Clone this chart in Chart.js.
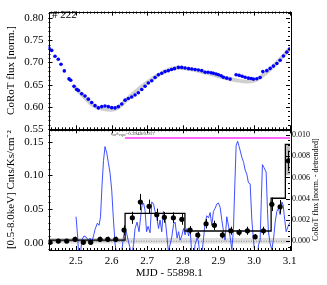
<!DOCTYPE html>
<html>
<head>
<meta charset="utf-8">
<script src="https://cdn.jsdelivr.net/npm/chart.js@4.4.0/dist/chart.umd.min.js"></script>
<style>
html, body { margin: 0; padding: 0; background: #fff; }
#wrap { position: relative; width: 327px; height: 285px; }
#wrap canvas { position: absolute; left: 0; top: 0; }
</style>
</head>
<body>
<div id="wrap">
  <canvas id="topChart" width="327" height="285" style="width:327px;height:285px"></canvas>
  <canvas id="botChart" width="327" height="285" style="width:327px;height:285px"></canvas>
</div>
<script>
// x range (MJD - 55898.1)
const xMin = 2.423, xMax = 3.101;

// top panel: CoRoT flux points
const fluxT = [2.4244, 2.4320, 2.4413, 2.4505, 2.4581, 2.4674, 2.4806, 2.4854,
  2.4946, 2.5022, 2.5067, 2.5163, 2.5255, 2.5348, 2.5443, 2.5536, 2.5629, 2.5724,
  2.5817, 2.5910, 2.6005, 2.6098, 2.6191, 2.6286, 2.6379, 2.6472, 2.6567, 2.6660,
  2.6752, 2.6848, 2.6941, 2.7033, 2.7129, 2.7222, 2.7314, 2.7410, 2.7503, 2.7595,
  2.7685, 2.7769, 2.7876, 2.7971, 2.8064, 2.8163, 2.8253, 2.8345, 2.8438, 2.8533,
  2.8626, 2.8710, 2.8795, 2.8860, 2.8935, 2.9000, 2.9076, 2.9140, 2.9236, 2.9329,
  2.9497, 2.9581, 2.9666, 2.9750, 2.9843, 2.9919, 2.9983, 3.0078, 3.0171, 3.0247,
  3.0360, 3.0452, 3.0545, 3.0641, 3.0733, 3.0826, 3.0921, 3.0994];
const fluxV = [0.732, 0.727, 0.714, 0.707, 0.696, 0.681, 0.663, 0.660,
  0.6467, 0.6394, 0.6373, 0.6298, 0.6248, 0.6176, 0.6102, 0.6030, 0.5980, 0.6008,
  0.6023, 0.6008, 0.5986, 0.5980, 0.6008, 0.6067, 0.6154, 0.6190, 0.6226, 0.6270,
  0.6320, 0.6394, 0.6467, 0.6538, 0.6590, 0.6663, 0.6722, 0.6757, 0.6794, 0.6816,
  0.6840, 0.6860, 0.6888, 0.6888, 0.6875, 0.6860, 0.6853, 0.6840, 0.6831, 0.6816,
  0.6778, 0.6780, 0.6770, 0.6757, 0.6740, 0.6722, 0.6700, 0.6669, 0.6647, 0.6626,
  0.6722, 0.6710, 0.6690, 0.6669, 0.6647, 0.6640, 0.6626, 0.6634, 0.6663, 0.6794,
  0.6816, 0.6866, 0.6918, 0.6975, 0.7049, 0.7143, 0.7230, 0.7302];

// top panel: smooth model (gray)
const modelT = [2.495, 2.52, 2.55, 2.575, 2.60, 2.62, 2.65, 2.70, 2.75, 2.78, 2.82, 2.87, 2.92, 2.95, 2.98, 3.00, 3.02, 3.05, 3.10];
const modelV = [0.646, 0.625, 0.603, 0.596, 0.594, 0.600, 0.622, 0.655, 0.680, 0.688, 0.685, 0.676, 0.665, 0.660, 0.657, 0.659, 0.668, 0.688, 0.730];

// bottom panel: X-ray rate [0.5-8.0 keV] with errors
const xrayT = [2.4272, 2.4505, 2.4741, 2.4974, 2.5208, 2.5415, 2.5677, 2.5893, 2.6118, 2.6351,
  2.6584, 2.6809, 2.7053, 2.7269, 2.7483, 2.7736, 2.7972, 2.8205, 2.8421, 2.8654,
  2.8888, 2.9112, 2.9348, 2.9581, 2.9815, 3.0031, 3.0264, 3.0500, 3.0733, 3.0966];
const xrayV = [0.0006, 0.0025, 0.0025, 0.005, 0.0006, 0.0006, 0.005, 0.005, 0.005, 0.0188,
  0.0371, 0.0604, 0.054, 0.0416, 0.0377, 0.0371, 0.0347, 0.0188, 0.0114, 0.0282,
  0.0258, 0.0114, 0.0178, 0.0154, 0.0178, 0.0089, 0.0178, 0.057, 0.0534, 0.1217];
const xrayErr = [0.003, 0.003, 0.003, 0.004, 0.003, 0.003, 0.004, 0.004, 0.004, 0.007,
  0.009, 0.012, 0.010, 0.009, 0.008, 0.008, 0.008, 0.006, 0.005, 0.007,
  0.007, 0.005, 0.006, 0.005, 0.006, 0.004, 0.006, 0.010, 0.010, 0.015];

// bayesian blocks
const blockEdges = [2.423, 2.638, 2.806, 3.048, 3.088, 3.101];
const blockRate = [0.004, 0.0437, 0.0174, 0.066, 0.146];
const block1Band = [0.001, 0.006];
const block5Band = [0.100, 0.146];

// bottom panel: detrended CoRoT flux (right axis)
const detT = [2.5003, 2.5045, 2.5078, 2.5129, 2.5163, 2.5227, 2.5283, 2.5348, 2.5396, 2.5443,
  2.5494, 2.5536, 2.5601, 2.5649, 2.5691, 2.5733, 2.5775, 2.5817, 2.5865, 2.5910,
  2.5958, 2.6005, 2.6050, 2.6098, 2.6146, 2.6210, 2.6286, 2.6331, 2.6379, 2.6427,
  2.6472, 2.6518, 2.6567, 2.6618, 2.6660, 2.6716, 2.6772, 2.6814, 2.6856, 2.6898,
  2.6941, 2.6983, 2.7025, 2.7081, 2.7129, 2.7180, 2.7222, 2.7270, 2.7320, 2.7362,
  2.7410, 2.7455, 2.7503, 2.7551, 2.7596, 2.7643, 2.7691, 2.7742, 2.7784, 2.7840,
  2.7882, 2.7924, 2.7972, 2.8022, 2.8064, 2.8120, 2.8163, 2.8205, 2.8253, 2.8303,
  2.8345, 2.8401, 2.8438, 2.8486, 2.8533, 2.8584, 2.8626, 2.8674, 2.8724, 2.8767,
  2.8815, 2.8860, 2.8908, 2.8955, 2.9000, 2.9048, 2.9096, 2.9146, 2.9188, 2.9236,
  2.9287, 2.9329, 2.9377, 2.9422, 2.9461, 2.9498, 2.9540, 2.9582, 2.9658, 2.9709,
  2.9750, 2.9798, 2.9843, 2.9891, 2.9939, 2.9984, 3.0031, 3.0087, 3.0129, 3.0171,
  3.0205, 3.0236, 3.0283, 3.0340, 3.0376, 3.0404, 3.0452, 3.0500, 3.0551, 3.0593,
  3.0641, 3.0686, 3.0733, 3.0781, 3.0818, 3.0846, 3.0902, 3.0967, 3.1014];
const detV = [0.00231, 0.00059, -0.00129, -0.00129, 0.00012, 0.0005, 0.0004, 0.0001, 0.0003, -0.0001,
  0.0005, 0.0011, 0.0017, 0.0015, 0.0023, 0.0053, 0.0076, 0.0089, 0.0083, 0.0074,
  0.0064, 0.0048, 0.0022, -0.0002, -0.0013, -0.0016, -0.0010, 0.0003, 0.0012, 0.0007,
  0.0000, -0.0006, -0.0014, -0.0003, 0.0012, 0.0018, 0.0009, 0.0022, 0.0034, 0.0036,
  0.0029, 0.0009, 0.0014, 0.0008, 0.0037, 0.0035, 0.0028, 0.0022, 0.0012, 0.0020,
  0.0009, 0.0028, 0.0022, 0.0006, -0.0010, -0.0003, 0.0004, 0.0016, 0.0018, 0.0003,
  0.0009, 0.0001, 0.0005, 0.0012, 0.0006, 0.0012, 0.0005, 0.0012, -0.0013, -0.0016,
  -0.0003, 0.0003, 0.0000, -0.0014, -0.0013, 0.0003, 0.0017, 0.0024, 0.0022, 0.0027,
  0.0015, 0.0028, 0.0031, 0.0035, 0.0036, 0.0032, 0.0020, 0.0009, 0.0001, 0.0023,
  0.0014, 0.0004, -0.0008, 0.0011, 0.0053, 0.0090, 0.0094, 0.0089, 0.0079, 0.0074,
  0.0067, 0.0063, 0.0055, 0.0054, 0.0020, 0.0001, -0.0014, -0.0016, -0.0003, 0.0001,
  0.0039, 0.0072, 0.0069, 0.0065, 0.0031, 0.0009, -0.0002, -0.0008, 0.0003, 0.0018,
  0.0028, 0.0031, 0.0025, 0.0037, 0.0034, 0.0025, 0.0009, 0.0015, 0.0018];

const threshLevel = 0.0097;   // magenta line
const threshStart = 2.638;
const zeroBand = [-0.0002, 0.0003];

const serif = 'Liberation Serif';

function pts(xs, ys) { return xs.map((x, i) => ({ x: x, y: ys[i] })); }

// frame with inward ticks (astro style)
function tickRow(ctx, scale, step, len, edge, horiz, dir) {
  const lo = Math.ceil(scale.min / step - 1e-6), hi = Math.floor(scale.max / step + 1e-6);
  for (let k = lo; k <= hi; k++) {
    const p = Math.round(scale.getPixelForValue(k * step)) + 0.5;
    ctx.beginPath();
    if (horiz) { ctx.moveTo(p, edge); ctx.lineTo(p, edge + dir * len); }
    else { ctx.moveTo(edge, p); ctx.lineTo(edge + dir * len, p); }
    ctx.stroke();
  }
}

const framePlugin = {
  id: 'frame',
  afterDraw(chart, args, opts) {
    const ctx = chart.ctx, a = chart.chartArea;
    ctx.save();
    ctx.strokeStyle = '#000';
    ctx.lineWidth = 1;
    ctx.strokeRect(Math.round(a.left) + 0.5, Math.round(a.top) + 0.5, Math.round(a.right - a.left), Math.round(a.bottom - a.top));
    const x = chart.scales.x;
    tickRow(ctx, x, 0.1, 4, a.bottom, true, -1);
    tickRow(ctx, x, 0.01, 2, a.bottom, true, -1);
    tickRow(ctx, x, 0.1, 4, a.top, true, 1);
    tickRow(ctx, x, 0.01, 2, a.top, true, 1);
    const yl = chart.scales[opts.left];
    tickRow(ctx, yl, opts.lMaj, 4, a.left, false, 1);
    tickRow(ctx, yl, opts.lMin, 2, a.left, false, 1);
    const yr = chart.scales[opts.right];
    tickRow(ctx, yr, opts.rMaj, 4, a.right, false, -1);
    tickRow(ctx, yr, opts.rMin, 2, a.right, false, -1);
    ctx.restore();
  }
};

// ---------- top panel ----------
new Chart(document.getElementById('topChart'), {
  type: 'scatter',
  data: {
    datasets: [
      {
        data: pts(fluxT, fluxV),
        showLine: false,
        pointRadius: 1.8,
        pointBorderWidth: 0,
        pointBackgroundColor: '#0000ff',
        order: 0
      },
      {
        data: pts(modelT, modelV),
        showLine: true,
        tension: 0.4,
        borderColor: '#cfcfcf',
        borderWidth: 4,
        pointRadius: 0,
        order: 1
      }
    ]
  },
  options: {
    responsive: false,
    animation: false,
    events: [],
    layout: { padding: { left: 0, right: 37, top: 8.3, bottom: 155.7 } },
    plugins: {
      legend: { display: false },
      tooltip: { enabled: false },
      frame: { left: 'y', right: 'y', lMaj: 0.05, lMin: 0.01, rMaj: 0.05, rMin: 0.01 }
    },
    scales: {
      x: { type: 'linear', min: xMin, max: xMax, display: false },
      y: {
        min: 0.55, max: 0.814,
        afterFit(s) { s.width = 48.5; },
        grid: { display: false, drawTicks: false },
        border: { display: false },
        ticks: {
          stepSize: 0.05, includeBounds: false, padding: 5, color: '#000',
          font: { family: serif, size: 11 },
          callback: v => v.toFixed(2)
        },
        title: {
          display: true, text: 'CoRoT flux [norm.]', color: '#000',
          font: { family: serif, size: 11 }, padding: { top: 5, bottom: 0 }
        }
      }
    }
  },
  plugins: [framePlugin, {
    id: 'label222',
    afterDraw(chart) {
      const ctx = chart.ctx;
      ctx.save();
      ctx.fillStyle = '#000';
      ctx.font = '11px "' + serif + '"';
      ctx.textBaseline = 'middle';
      ctx.fillText('# 222', chart.chartArea.left + 3.5, 15);
      ctx.restore();
    }
  }]
});

// ---------- bottom panel ----------
const errPlugin = {
  id: 'errbars',
  afterDatasetsDraw(chart) {
    const ctx = chart.ctx, x = chart.scales.x, y = chart.scales.yL;
    ctx.save();
    ctx.strokeStyle = '#000';
    ctx.lineWidth = 1;
    xrayT.forEach((t, i) => {
      const px = Math.round(x.getPixelForValue(t)) + 0.5;
      ctx.beginPath();
      ctx.moveTo(px, y.getPixelForValue(xrayV[i] - xrayErr[i]));
      ctx.lineTo(px, y.getPixelForValue(xrayV[i] + xrayErr[i]));
      ctx.stroke();
    });
    ctx.restore();
  }
};

const textPlugin = {
  id: 'texts',
  afterDraw(chart) {
    const ctx = chart.ctx;
    ctx.save();
    ctx.fillStyle = '#000';
    // right axis title, reading bottom to top
    ctx.translate(316, (chart.chartArea.top + chart.chartArea.bottom) / 2);
    ctx.rotate(-Math.PI / 2);
    ctx.textAlign = 'center';
    ctx.textBaseline = 'middle';
    ctx.font = '8px "' + serif + '"';
    ctx.fillText('CoRoT flux [norm. - detrended]', 0, 0);
    ctx.restore();
    // small annotation at top of panel
    ctx.save();
    ctx.fillStyle = '#333';
    ctx.textBaseline = 'middle';
    let cx = 111;
    const parts = [['t', 5, 0], ['on', 3.5, 1.5], ['/t', 5, 0], ['expo', 3.5, 1.5], ['=0.3948/0.917', 5, 0]];
    parts.forEach(p => {
      ctx.font = p[1] + 'px "' + serif + '"';
      ctx.fillText(p[0], cx, 134 + p[2]);
      cx += ctx.measureText(p[0]).width;
    });
    ctx.restore();
  }
};

new Chart(document.getElementById('botChart'), {
  type: 'scatter',
  data: {
    datasets: [
      {
        label: 'xray',
        data: pts(xrayT, xrayV),
        yAxisID: 'yL',
        showLine: false,
        pointRadius: 2.6,
        pointBorderWidth: 0,
        pointBackgroundColor: '#000',
        order: 0
      },
      {
        label: 'blocks',
        data: pts(blockEdges, blockRate.concat([blockRate[blockRate.length - 1]])),
        yAxisID: 'yL',
        showLine: true,
        stepped: 'before',
        borderColor: '#000',
        borderWidth: 1.3,
        pointRadius: 0,
        order: 1
      },
      {
        label: 'thresh',
        data: [{ x: threshStart, y: threshLevel }, { x: xMax, y: threshLevel }],
        yAxisID: 'yR',
        showLine: true,
        borderColor: '#ff66ff',
        borderWidth: 2,
        pointRadius: 0,
        order: 2
      },
      {
        label: 'detrended',
        data: pts(detT, detV),
        yAxisID: 'yR',
        showLine: true,
        borderColor: '#2a3cff',
        borderWidth: 0.9,
        pointRadius: 0,
        order: 3
      },
      {
        label: 'zeroLine',
        data: [{ x: xMin, y: 0 }, { x: xMax, y: 0 }],
        yAxisID: 'yR',
        showLine: true,
        borderColor: '#8a8a8a',
        borderWidth: 1,
        borderDash: [1, 1.5],
        pointRadius: 0,
        order: 4
      },
      {
        label: 'zeroHi',
        data: [{ x: xMin, y: zeroBand[1] }, { x: xMax, y: zeroBand[1] }],
        yAxisID: 'yR',
        showLine: true,
        borderWidth: 0,
        pointRadius: 0,
        fill: '+1',
        backgroundColor: '#dedede',
        order: 6
      },
      {
        label: 'zeroLo',
        data: [{ x: xMin, y: zeroBand[0] }, { x: xMax, y: zeroBand[0] }],
        yAxisID: 'yR',
        showLine: true,
        borderWidth: 0,
        pointRadius: 0,
        order: 7
      },
      {
        label: 'b1hi',
        data: [{ x: blockEdges[0], y: block1Band[1] }, { x: blockEdges[1], y: block1Band[1] }],
        yAxisID: 'yL',
        showLine: true,
        borderWidth: 0,
        pointRadius: 0,
        fill: '+1',
        backgroundColor: '#bdbdbd',
        order: 5
      },
      {
        label: 'b1lo',
        data: [{ x: blockEdges[0], y: block1Band[0] }, { x: blockEdges[1], y: block1Band[0] }],
        yAxisID: 'yL',
        showLine: true,
        borderWidth: 0,
        pointRadius: 0,
        order: 8
      },
      {
        label: 'b5hi',
        data: [{ x: blockEdges[4], y: block5Band[1] }, { x: blockEdges[5], y: block5Band[1] }],
        yAxisID: 'yL',
        showLine: true,
        borderWidth: 0,
        pointRadius: 0,
        fill: '+1',
        backgroundColor: '#bdbdbd',
        order: 5
      },
      {
        label: 'b5lo',
        data: [{ x: blockEdges[4], y: block5Band[0] }, { x: blockEdges[5], y: block5Band[0] }],
        yAxisID: 'yL',
        showLine: true,
        borderWidth: 0,
        pointRadius: 0,
        order: 8
      }
    ]
  },
  options: {
    responsive: false,
    animation: false,
    events: [],
    layout: { padding: { left: 0, right: 0, top: 129.3, bottom: 0 } },
    plugins: {
      legend: { display: false },
      tooltip: { enabled: false },
      frame: { left: 'yL', right: 'yR', lMaj: 0.05, lMin: 0.01, rMaj: 0.002, rMin: 0.0005 }
    },
    scales: {
      x: {
        type: 'linear', min: xMin, max: xMax,
        afterFit(s) { s.height = 35; },
        grid: { display: false, drawTicks: false },
        border: { display: false },
        ticks: {
          stepSize: 0.1, includeBounds: false, padding: 5, color: '#000',
          autoSkip: false, maxRotation: 0,
          font: { family: serif, size: 11 },
          callback: v => v.toFixed(1)
        },
        title: {
          display: true, text: 'MJD - 55898.1', color: '#000',
          font: { family: serif, size: 11 }, padding: { top: 0, bottom: 5 }
        }
      },
      yL: {
        position: 'left',
        min: -0.0108, max: 0.1684,
        afterFit(s) { s.width = 48.5; },
        grid: { display: false, drawTicks: false },
        border: { display: false },
        ticks: {
          stepSize: 0.05, includeBounds: false, padding: 5, color: '#000',
          font: { family: serif, size: 11 },
          callback: v => v.toFixed(2)
        },
        title: {
          display: true, text: '[0.5-8.0keV] Cnts/Ks/cm\u207B\u00B2', color: '#000',
          font: { family: serif, size: 11 }, padding: { top: 5, bottom: 0 }
        }
      },
      yR: {
        position: 'right',
        min: -0.00082, max: 0.01052,
        afterFit(s) { s.width = 37; },
        grid: { display: false, drawTicks: false },
        border: { display: false },
        ticks: {
          stepSize: 0.002, includeBounds: false, padding: 2, color: '#000',
          font: { family: serif, size: 8 },
          callback: v => v.toFixed(3)
        }
      }
    }
  },
  plugins: [framePlugin, errPlugin, textPlugin]
});
</script>
</body>
</html>
